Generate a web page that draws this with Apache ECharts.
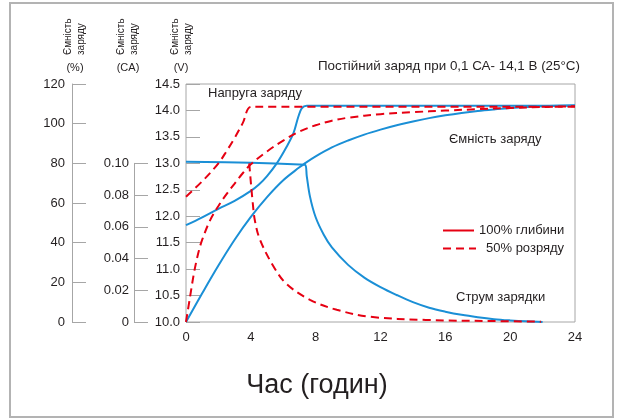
<!DOCTYPE html>
<html><head><meta charset="utf-8">
<script src="https://cdn.jsdelivr.net/npm/echarts@6/dist/echarts.min.js"></script>
<style>html,body{margin:0;padding:0;background:#fff}#c{width:618px;height:419px}</style>
</head><body><div id="c"></div>
<script>
// ---- data (hours on x) ----
const xTicks = [0, 4, 8, 12, 16, 20, 24];
// Charge voltage (V), 100% depth
const voltFullX = [0, 1, 2, 3, 4, 4.5, 5, 5.6, 6.2, 6.63, 6.93, 7.14, 7.45, 8, 12, 16, 20, 24];
const voltFullY = [11.83, 11.98, 12.14, 12.29, 12.48, 12.6, 12.76, 13.0, 13.31, 13.57, 13.88, 14.04, 14.09, 14.09, 14.09, 14.09, 14.09, 14.09];
// Charge voltage (V), 50% discharge
const voltHalfX = [0, 1, 2, 2.5, 3, 3.5, 4.05, 8, 12, 16, 20, 24];
const voltHalfY = [12.37, 12.66, 13.0, 13.23, 13.48, 13.76, 14.07, 14.07, 14.07, 14.07, 14.07, 14.07];
// Charged capacity (%), 100% depth
const capFullX = [0, 1, 2, 3, 4, 5, 6, 7, 7.33, 8, 9, 10, 11, 12, 13, 14, 15, 16, 17, 18, 19, 20, 22, 24];
const capFullY = [0, 14.5, 28.5, 41.5, 53, 63, 71.5, 78, 80, 83.5, 88, 91.5, 94.5, 97, 99.2, 101.1, 102.8, 104.2, 105.4, 106.4, 107.2, 107.9, 108.8, 109.3];
// Charged capacity (%), 50% discharge
const capHalfX = [0, 0.25, 0.5, 0.75, 1, 1.5, 2, 2.5, 3, 3.5, 4, 5, 6, 7, 8, 9, 10, 12, 14, 16, 18, 20, 22, 24];
const capHalfY = [0, 12.7, 25, 34.5, 41.5, 51.5, 58.5, 64.5, 69.8, 75, 79.5, 86, 91.5, 96, 99.2, 101.5, 103, 104.8, 105.8, 106.6, 107.3, 107.9, 108.4, 108.8];
// Charge current (CA), 100% depth
const curFullX = [0, 4, 7.0, 7.35, 7.45, 7.65, 8.0, 8.5, 9.0, 10, 11, 12, 13, 14, 15, 16, 17, 18, 19, 20, 21, 22];
const curFullY = [0.101, 0.1003, 0.0993, 0.099, 0.092, 0.079, 0.066, 0.055, 0.047, 0.036, 0.028, 0.022, 0.017, 0.0125, 0.009, 0.0065, 0.0045, 0.003, 0.0018, 0.001, 0.0004, 0];
// Charge current (CA), 50% discharge
const curHalfX = [3.9, 3.95, 4.1, 4.25, 4.56, 5.4, 6.2, 7.65, 9.3, 11.36, 14.8, 18.9, 21.9];
const curHalfY = [0.100, 0.094, 0.077, 0.064, 0.052, 0.035, 0.024, 0.014, 0.0077, 0.0033, 0.0013, 0.0006, 0.0002];

const legendNames = ['100% глибини', '50% розряду'];
const titleText = 'Постійний заряд при 0,1 СА- 14,1 В (25°C)';
const xName = 'Час (годин)';

const zip = (xs, ys) => xs.map((x, i) => [x, ys[i]]);

const FONT = '"Liberation Sans", Arial, sans-serif';
const TXT = '#231f20';
const AX = '#a6a6a6';
const BLUE = '#1a8fd6';
const RED = '#e60012';
const DASH = [8, 5];

// layout
const G = {left: 186, right: 43, top: 84, bottom: 97};
const H = 419 - G.top - G.bottom;
const caTop = G.top + H * (14.5 - 13.0) / 4.5;

const chart = echarts.init(document.getElementById('c'), null, {renderer: 'canvas'});

function lineSeries(name, data, yIdx, color, dashed, z) {
  return {
    name: name, type: 'line', xAxisIndex: 0, yAxisIndex: yIdx, data: data,
    symbol: 'none', smooth: 0.35, z: z, silent: true,
    lineStyle: {color: color, width: 2, type: dashed ? DASH : 'solid'},
    itemStyle: {color: color}
  };
}

const legendCommon = {
  orient: 'vertical', itemHeight: 14, selectedMode: false, padding: 0,
  itemStyle: {opacity: 0}
};

const option = {
  animation: false,
  textStyle: {fontFamily: FONT},
  grid: [
    {left: G.left, right: G.right, top: G.top, bottom: G.bottom, show: true, borderColor: AX, borderWidth: 1, containLabel: false},
    {left: 134, width: 10, top: caTop, bottom: G.bottom, show: false}
  ],
  xAxis: [
    {type: 'value', gridIndex: 0, min: 0, max: 24, interval: 4,
     axisLine: {show: false}, axisTick: {show: false}, splitLine: {show: false},
     axisLabel: {color: TXT, fontSize: 13, margin: 9, fontFamily: FONT}},
    {type: 'value', gridIndex: 1, show: false, min: 0, max: 1}
  ],
  yAxis: [
    {type: 'value', gridIndex: 0, min: 10, max: 14.5, interval: 0.5, position: 'left',
     axisLine: {show: false}, splitLine: {show: false},
     axisTick: {show: true, inside: true, length: 14, lineStyle: {color: AX}},
     axisLabel: {color: TXT, fontSize: 13, margin: 6, fontFamily: FONT, formatter: v => v.toFixed(1)}},
    {type: 'value', gridIndex: 0, min: 0, max: 120, interval: 20, position: 'left', offset: 114,
     axisLine: {show: true, lineStyle: {color: AX}}, splitLine: {show: false},
     axisTick: {show: true, inside: true, length: 14, lineStyle: {color: AX}},
     axisLabel: {color: TXT, fontSize: 13, margin: 7, fontFamily: FONT}},
    {type: 'value', gridIndex: 0, min: 0, max: 0.15, show: false},
    {type: 'value', gridIndex: 1, min: 0, max: 0.10, interval: 0.02, position: 'left',
     axisLine: {show: true, lineStyle: {color: AX}}, splitLine: {show: false},
     axisTick: {show: true, inside: true, length: 14, lineStyle: {color: AX}},
     axisLabel: {color: TXT, fontSize: 13, margin: 5, fontFamily: FONT,
                 formatter: v => v === 0 ? '0' : v.toFixed(2)}}
  ],
  legend: [
    Object.assign({}, legendCommon, {data: [legendNames[0]], left: 442, top: 224, itemWidth: 31,
     textStyle: {color: TXT, fontSize: 13, fontFamily: FONT}}),
    Object.assign({}, legendCommon, {data: [legendNames[1]], left: 442, top: 242, itemWidth: 33,
     textStyle: {color: TXT, fontSize: 13, fontFamily: FONT, padding: [0, 0, 0, 5]}})
  ],
  series: [
    lineSeries('Напруга 100', zip(voltFullX, voltFullY), 0, BLUE, false, 2),
    lineSeries('Ємність 100', zip(capFullX, capFullY), 1, BLUE, false, 2),
    lineSeries('Струм 100', zip(curFullX, curFullY), 2, BLUE, false, 2),
    lineSeries('Напруга 50', zip(voltHalfX, voltHalfY), 0, RED, true, 3),
    lineSeries('Ємність 50', zip(capHalfX, capHalfY), 1, RED, true, 3),
    lineSeries('Струм 50', zip(curHalfX, curHalfY), 2, RED, true, 3),
    lineSeries(legendNames[0], [], 0, RED, false, 1),
    lineSeries(legendNames[1], [], 0, RED, true, 1)
  ],
  graphic: [
    {type: 'rect', shape: {x: 10, y: 3, width: 603, height: 414}, style: {fill: 'none', stroke: '#b3b3b3', lineWidth: 2}, silent: true},
    {type: 'text', x: 580, y: 66, style: {text: titleText, fill: TXT, font: '13.4px ' + FONT, textAlign: 'right', textVerticalAlign: 'middle'}},
    {type: 'text', x: 208, y: 93, style: {text: 'Напруга заряду', fill: TXT, font: '13px ' + FONT, textAlign: 'left', textVerticalAlign: 'middle'}},
    {type: 'text', x: 449, y: 139, style: {text: 'Ємність заряду', fill: TXT, font: '13px ' + FONT, textAlign: 'left', textVerticalAlign: 'middle'}},
    {type: 'text', x: 456, y: 297, style: {text: 'Струм зарядки', fill: TXT, font: '13px ' + FONT, textAlign: 'left', textVerticalAlign: 'middle'}},
    {type: 'text', x: 317, y: 386, style: {text: xName, fill: TXT, font: '27px ' + FONT, textAlign: 'center', textVerticalAlign: 'middle'}},
    {type: 'text', x: 75, y: 55, rotation: Math.PI / 2, style: {text: 'Ємність\nзаряду', fill: TXT, font: '10px ' + FONT, lineHeight: 13, textAlign: 'left', textVerticalAlign: 'middle'}},
    {type: 'text', x: 128, y: 55, rotation: Math.PI / 2, style: {text: 'Ємність\nзаряду', fill: TXT, font: '10px ' + FONT, lineHeight: 13, textAlign: 'left', textVerticalAlign: 'middle'}},
    {type: 'text', x: 182, y: 55, rotation: Math.PI / 2, style: {text: 'Ємність\nзаряду', fill: TXT, font: '10px ' + FONT, lineHeight: 13, textAlign: 'left', textVerticalAlign: 'middle'}},
    {type: 'text', x: 75, y: 68, style: {text: '(%)', fill: TXT, font: '11px ' + FONT, textAlign: 'center', textVerticalAlign: 'middle'}},
    {type: 'text', x: 128, y: 68, style: {text: '(CA)', fill: TXT, font: '11px ' + FONT, textAlign: 'center', textVerticalAlign: 'middle'}},
    {type: 'text', x: 181, y: 68, style: {text: '(V)', fill: TXT, font: '11px ' + FONT, textAlign: 'center', textVerticalAlign: 'middle'}}
  ]
};
chart.setOption(option);
</script>
</body></html>
